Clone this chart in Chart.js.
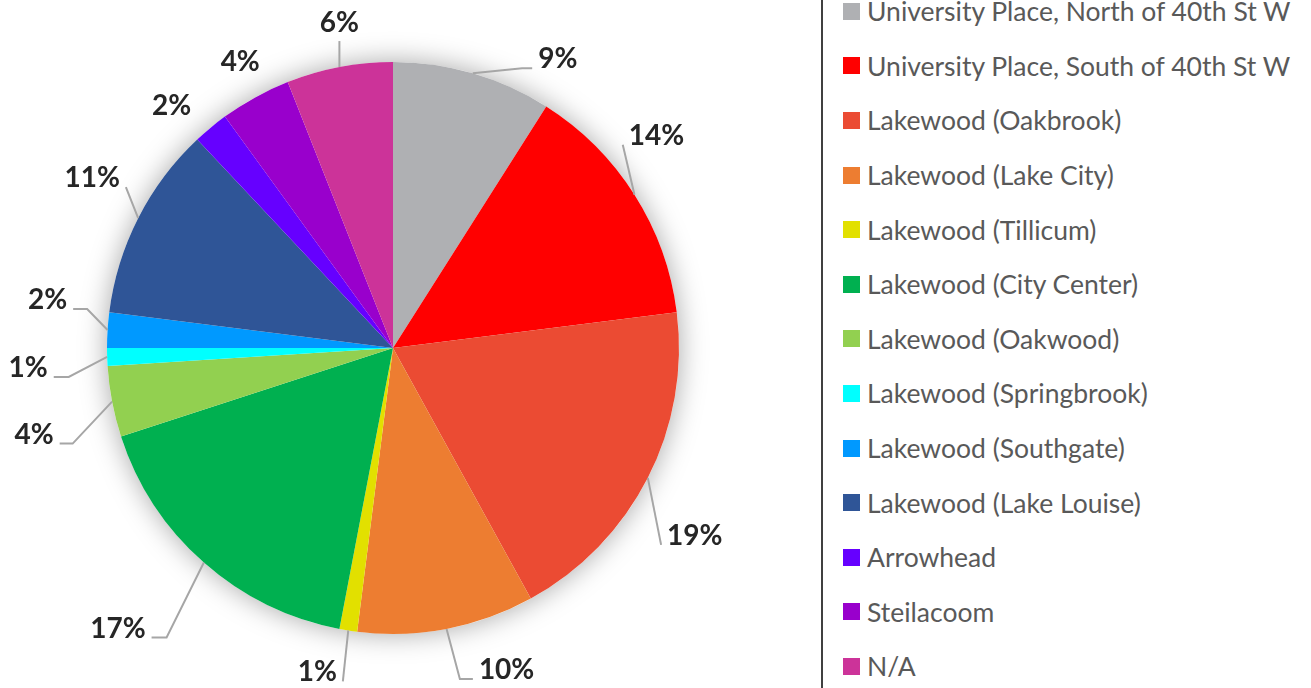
<!DOCTYPE html>
<html>
<head>
<meta charset="utf-8">
<script src="https://cdn.jsdelivr.net/npm/chart.js@4"></script>
<style>
  html, body { margin: 0; padding: 0; background: #ffffff; overflow: hidden; }
  #wrap { position: relative; width: 1311px; height: 688px; overflow: hidden; }
  #areaChart { position: absolute; left: 0; top: 0; }
  #legend {
    position: absolute; left: 821px; top: -18px; width: 600px; height: 740px;
    border: 2px solid #404040; box-sizing: border-box; background: #ffffff;
    font-family: Lato, "Open Sans", sans-serif; font-size: 26.5px; color: #595959;
  }
  #legend .row { height: 54.6px; display: flex; align-items: center; padding-left: 20px; white-space: nowrap; }
  #legend .box { width: 17px; height: 17px; margin-right: 7px; flex: none; }
</style>
</head>
<body>
<div id="wrap">
  <canvas id="areaChart" width="1311" height="688"></canvas>
  <div id="legend"></div>
</div>
<script>
const areaLabels = [
    'University Place, North of 40th St W',
    'University Place, South of 40th St W',
    'Lakewood (Oakbrook)',
    'Lakewood (Lake City)',
    'Lakewood (Tillicum)',
    'Lakewood (City Center)',
    'Lakewood (Oakwood)',
    'Lakewood (Springbrook)',
    'Lakewood (Southgate)',
    'Lakewood (Lake Louise)',
    'Arrowhead',
    'Steilacoom',
    'N/A'
];

// share of responses, percent
const areaShare = [9, 14, 19, 10, 1, 17, 4, 1, 2, 11, 2, 4, 6];

const areaColors = [
    '#AFB0B3', '#FF0000', '#EB4B33', '#ED7D31', '#E2E000', '#00B050', '#92D050',
    '#00FFFF', '#0099FF', '#2F5597', '#6600FF', '#9900CC', '#CC3399'
];

// where each percent label sits relative to the slice's outer edge,
// and how its leader line is drawn
const labelPlacement = [
    { dx: 85, dy: -15, leader: 'side', hook: 10 },
    { dx: 22, dy: -60, leader: 'side', hook: 0 },
    { dx: 47, dy: 57, leader: 'side', hook: 0 },
    { dx: 60, dy: 40, leader: 'side', hook: 13 },
    { dx: -31, dy: 41, leader: 'side', hook: 0 },
    { dx: -86, dy: 65, leader: 'side', hook: 15 },
    { dx: -78, dy: 32, leader: 'side', hook: 13 },
    { dx: -79, dy: 10, leader: 'side', hook: 15 },
    { dx: -60, dy: -31, leader: 'side', hook: 14 },
    { dx: -46, dy: -41, leader: 'side', hook: 0 },
    { dx: -39, dy: -23, leader: 'none', hook: 0 },
    { dx: -15, dy: -36, leader: 'none', hook: 0 },
    { dx: 0, dy: -45, leader: 'top', hook: 0 }
];

// soft glow behind the whole pie
const pieShadow = {
    id: 'pieShadow',
    beforeDatasetsDraw(chart) {
        const arc = chart.getDatasetMeta(0).data[0];
        if (!arc) return;
        const ctx = chart.ctx;
        ctx.save();
        ctx.shadowColor = 'rgba(0, 0, 0, 0.35)';
        ctx.shadowBlur = 28;
        ctx.fillStyle = '#ffffff';
        ctx.beginPath();
        ctx.arc(arc.x, arc.y, arc.outerRadius, 0, Math.PI * 2);
        ctx.fill();
        ctx.restore();
    }
};

// percent labels with leader lines
const sliceLabels = {
    id: 'sliceLabels',
    afterDatasetsDraw(chart) {
        const ctx = chart.ctx;
        const meta = chart.getDatasetMeta(0);
        ctx.save();
        ctx.font = 'bold 28px Lato, "Open Sans", sans-serif';
        ctx.textAlign = 'center';
        ctx.textBaseline = 'alphabetic';
        meta.data.forEach((arc, i) => {
            const p = arc.getProps(['x', 'y', 'startAngle', 'endAngle', 'outerRadius'], true);
            const mid = (p.startAngle + p.endAngle) / 2;
            const ex = p.x + Math.cos(mid) * p.outerRadius;
            const ey = p.y + Math.sin(mid) * p.outerRadius;
            const place = labelPlacement[i];
            const lx = ex + place.dx;
            const ly = ey + place.dy;
            const text = areaShare[i] + '%';
            const half = ctx.measureText(text).width / 2;

            ctx.strokeStyle = '#A6A6A6';
            ctx.lineWidth = 2;
            if (place.leader === 'side') {
                const side = place.dx > 0 ? 1 : -1;
                const endX = lx - side * (half + 6);
                const endY = ly + 10;
                const elbowX = endX - side * place.hook;
                ctx.beginPath();
                ctx.moveTo(ex, ey);
                ctx.lineTo(elbowX, endY);
                ctx.lineTo(endX, endY);
                ctx.stroke();
            } else if (place.leader === 'top') {
                ctx.beginPath();
                ctx.moveTo(ex, ey);
                ctx.lineTo(ex, ly + 19);
                ctx.stroke();
            }

            ctx.fillStyle = '#262626';
            ctx.fillText(text, lx, ly + 10);
        });
        ctx.restore();
    }
};

const ctx = document.getElementById('areaChart').getContext('2d');
const areaChart = new Chart(ctx, {
    type: 'pie',
    data: {
        labels: areaLabels,
        datasets: [{
            data: areaShare,
            backgroundColor: areaColors,
            borderWidth: 0
        }]
    },
    options: {
        responsive: false,
        animation: false,
        layout: {
            padding: { left: 107, top: 62, right: 632, bottom: 54 }
        },
        plugins: {
            legend: { display: false },
            tooltip: { enabled: false }
        }
    },
    plugins: [pieShadow, sliceLabels]
});

// legend built from the same labels and colours
const legendEl = document.getElementById('legend');
areaLabels.forEach((label, i) => {
    const row = document.createElement('div');
    row.className = 'row';
    const box = document.createElement('span');
    box.className = 'box';
    box.style.background = areaColors[i];
    const txt = document.createElement('span');
    txt.textContent = label;
    row.appendChild(box);
    row.appendChild(txt);
    legendEl.appendChild(row);
});
</script>
</body>
</html>
